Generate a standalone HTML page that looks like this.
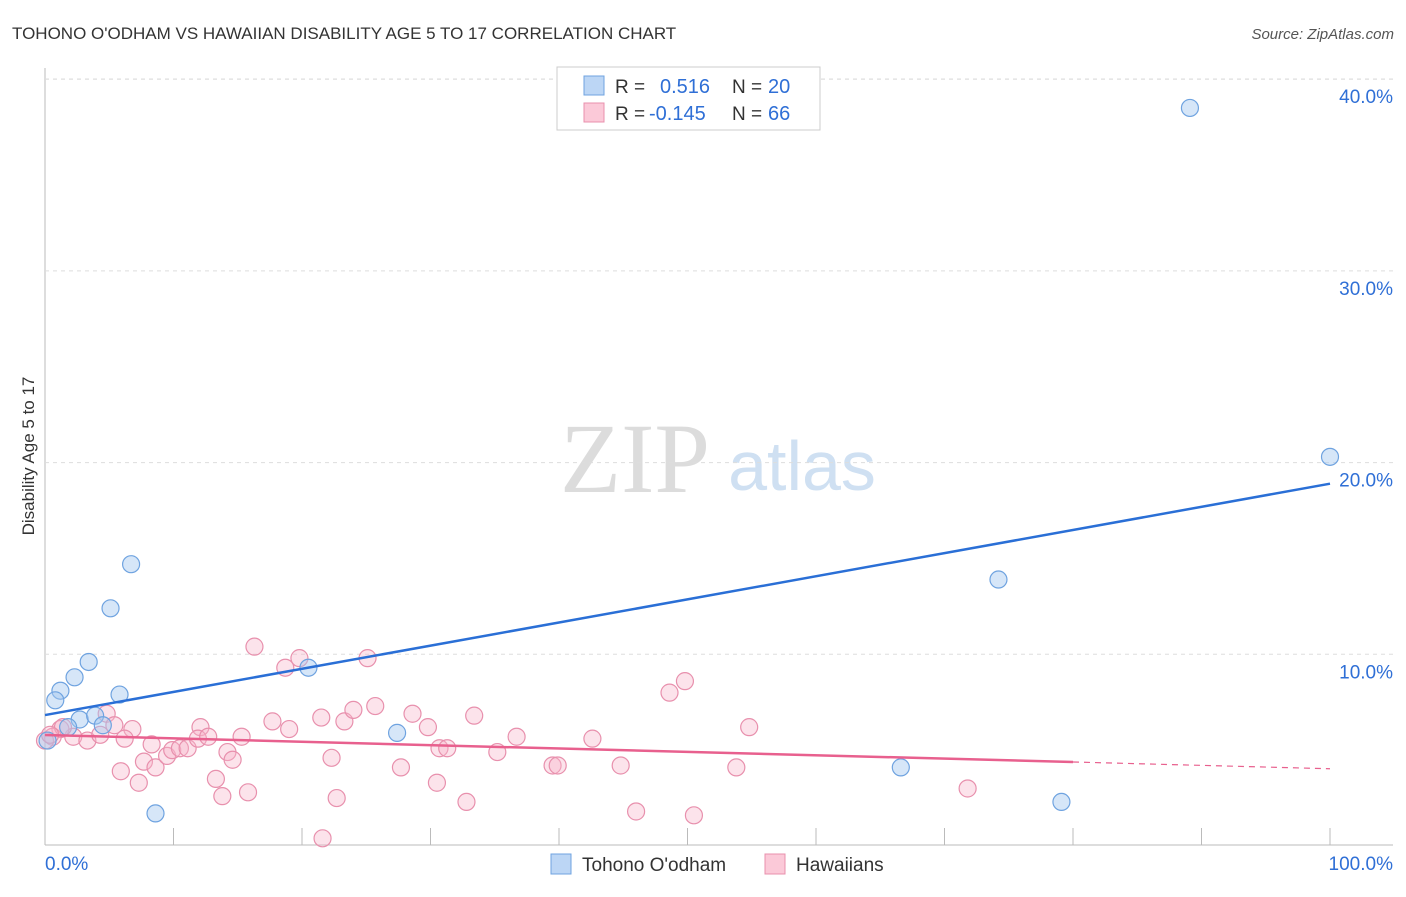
<!DOCTYPE html>
<html><head><meta charset="utf-8"><style>
body{margin:0;background:#fff;width:1406px;height:892px;overflow:hidden;font-family:"Liberation Sans",sans-serif}
svg text{font-family:"Liberation Sans",sans-serif}
</style></head><body>
<svg id="c" width="1406" height="892">
<text x="12" y="39" font-size="17" fill="#333">TOHONO O'ODHAM VS HAWAIIAN DISABILITY AGE 5 TO 17 CORRELATION CHART</text>
<text x="1394" y="39" font-size="15" fill="#555" font-style="italic" text-anchor="end">Source: ZipAtlas.com</text>
<text x="635" y="492" font-size="100" fill="#dcdcdc" text-anchor="middle" style="font-family:'Liberation Serif',serif">ZIP</text>
<text x="802" y="490" font-size="70" fill="#cfe0f2" text-anchor="middle">atlas</text>
<text transform="translate(34,456) rotate(-90)" font-size="17" fill="#333" text-anchor="middle">Disability Age 5 to 17</text>
<g id="grid"></g><g id="pts"></g><g id="lines"></g>
<g>
<rect x="557" y="67" width="263" height="63" fill="#fff" stroke="#ccc"/>
<rect x="584" y="76" width="20" height="19" fill="#bcd6f5" stroke="#6fa3e0"/>
<rect x="584" y="103" width="20" height="19" fill="#fbc9d8" stroke="#e890ad"/>
<text x="615" y="93" font-size="19" fill="#333">R = </text><text x="660" y="93" font-size="20" fill="#2f6fd6">0.516</text>
<text x="732" y="93" font-size="19" fill="#333">N = </text><text x="768" y="93" font-size="20" fill="#2f6fd6">20</text>
<text x="615" y="120" font-size="19" fill="#333">R = </text><text x="649" y="120" font-size="20" fill="#2f6fd6">-0.145</text>
<text x="732" y="120" font-size="19" fill="#333">N = </text><text x="768" y="120" font-size="20" fill="#2f6fd6">66</text>
</g>
<g>
<rect x="551" y="854" width="20" height="20" fill="#bcd6f5" stroke="#6fa3e0"/>
<text x="582" y="871" font-size="19" fill="#333">Tohono O'odham</text>
<rect x="765" y="854" width="20" height="20" fill="#fbc9d8" stroke="#e890ad"/>
<text x="796" y="871" font-size="19" fill="#333">Hawaiians</text>
</g>
</svg>
<script>
const yTicks=[10,20,30,40];
const xTickLabels=["0.0%","100.0%"];
const blueX=[89.1,100,74.2,6.7,5.1,3.4,2.3,1.2,0.8,5.8,20.5,27.4,66.6,79.1,8.6,2.7,3.9,4.5,1.8,0.2];
const blueY=[38.5,20.3,13.9,14.7,12.4,9.6,8.8,8.1,7.6,7.9,9.3,5.9,4.1,2.3,1.7,6.6,6.8,6.3,6.2,5.5];
const pinkX=[16.3,18.7,19.8,25.1,4.8,5.4,6.8,6.2,2.2,3.3,4.3,1.2,0.6,1.4,8.3,7.7,8.6,9.5,9.9,10.5,11.1,12.1,11.9,12.7,5.9,7.3,14.2,14.6,15.3,13.3,13.8,15.8,17.7,19.0,21.5,23.3,24.0,25.7,22.3,22.7,21.6,28.6,29.8,30.7,31.3,27.7,30.5,32.8,33.4,35.2,36.7,39.5,39.9,42.6,44.8,46.0,48.6,49.8,50.5,53.8,54.8,71.8,0,0.4];
const pinkY=[10.4,9.3,9.8,9.8,6.9,6.3,6.1,5.6,5.7,5.5,5.8,6.1,5.7,6.2,5.3,4.4,4.1,4.7,5.0,5.1,5.1,6.2,5.6,5.7,3.9,3.3,4.9,4.5,5.7,3.5,2.6,2.8,6.5,6.1,6.7,6.5,7.1,7.3,4.6,2.5,0.4,6.9,6.2,5.1,5.1,4.1,3.3,2.3,6.8,4.9,5.7,4.2,4.2,5.6,4.2,1.8,8.0,8.6,1.6,4.1,6.2,3.0,5.5,5.8];
const blueTrend=[6.83,18.9];
const pinkTrend=[5.79,4.03];
const NS="http://www.w3.org/2000/svg";
const sx=v=>45+v*12.85, sy=v=>846-v*19.17;
function mk(p,t,a){const e=document.createElementNS(NS,t);for(const k in a)e.setAttribute(k,a[k]);p.appendChild(e);return e;}
const g=document.getElementById('grid');
mk(g,'line',{x1:45,y1:68,x2:45,y2:845,stroke:'#bbb'});
mk(g,'line',{x1:45,y1:845,x2:1393,y2:845,stroke:'#bbb'});
mk(g,'line',{x1:45,y1:79,x2:1393,y2:79,stroke:'#ddd','stroke-dasharray':'4,4'});
yTicks.forEach(t=>{
 const l=mk(g,'line',{x1:45,y1:sy(t),x2:1393,y2:sy(t),stroke:'#ddd','stroke-dasharray':'4,4'});
 
 
 const tx=mk(g,'text',{x:1393,y:sy(t)+24,'font-size':19,fill:'#2f6fd6','text-anchor':'end'});
 tx.textContent=t.toFixed(1)+'%';
 
 
});
for(let i=1;i<=10;i++){const l=mk(g,'line',{x1:sx(i*10),y1:828,x2:sx(i*10),y2:845,stroke:'#bbb'});
 
 }
const x0=mk(g,'text',{x:45,y:870,'font-size':19,fill:'#2f6fd6'});x0.textContent=xTickLabels[0];


const x1=mk(g,'text',{x:1393,y:870,'font-size':19,fill:'#2f6fd6','text-anchor':'end'});x1.textContent=xTickLabels[1];


const P=document.getElementById('pts');
pinkX.forEach((x,i)=>{const c=mk(P,'circle',{cx:sx(x),cy:sy(pinkY[i]),r:8.5,fill:'rgba(248,182,202,0.38)',stroke:'#e890ad','stroke-width':1.2});
 
 });
blueX.forEach((x,i)=>{const c=mk(P,'circle',{cx:sx(x),cy:sy(blueY[i]),r:8.5,fill:'rgba(164,200,240,0.45)',stroke:'#6fa3e0','stroke-width':1.2});
 
 });
const L=document.getElementById('lines');
const bl=mk(L,'line',{x1:sx(0),y1:sy(blueTrend[0]),x2:sx(100),y2:sy(blueTrend[1]),stroke:'#2a6fd6','stroke-width':2.5});


const pm=v=>pinkTrend[0]+(pinkTrend[1]-pinkTrend[0])*v/100;
const pl=mk(L,'line',{x1:sx(0),y1:sy(pm(0)),x2:sx(80),y2:sy(pm(80)),stroke:'#e8608e','stroke-width':2.5});


const pd=mk(L,'line',{x1:sx(80),y1:sy(pm(80)),x2:sx(100),y2:sy(pm(100)),stroke:'#e8608e','stroke-width':1.2,'stroke-dasharray':'6,5'});


</script>
</body></html>
